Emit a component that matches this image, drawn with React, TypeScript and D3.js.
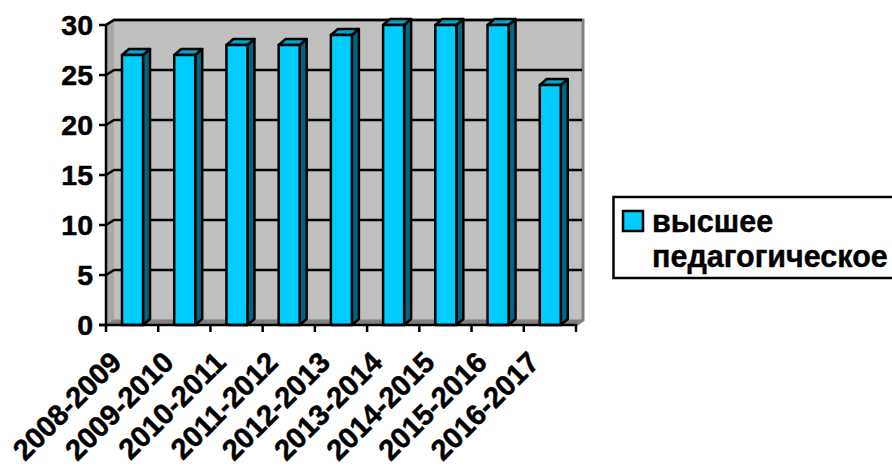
import React from "react";
import * as d3 from "d3";

const categories = ["2008-2009","2009-2010","2010-2011","2011-2012","2012-2013","2013-2014","2014-2015","2015-2016","2016-2017"];
const values = [27,27,28,28,29,30,30,30,24];
const yTicks = [0,5,10,15,20,25,30];
const legendLines = ["высшее","педагогическое"];

const W = 892, H = 466;
const x0 = 106, x1 = 576, yB = 325, yT = 25;
const dx = 8, dy = -5;
const FONT = "'Liberation Sans', Arial, sans-serif";

export default function App() {
  const x = d3.scaleBand<string>().domain(categories).range([x0, x1]).paddingInner(0).paddingOuter(0);
  const y = d3.scaleLinear().domain([0, 30]).range([yB, yT]);
  const step = x.step();
  const barW = 21;
  const bdx = 7, bdy = -6;
  const poly = (p: number[][]) => p.map(q => q.join(",")).join(" ");
  return (
    <svg width={W} height={H} viewBox={`0 0 ${W} ${H}`} style={{ position: "absolute", left: 0, top: 0, background: "#fff" }} fontFamily={FONT}>
      {/* walls */}
      <polygon points={poly([[x0+dx,yT+dy],[x1+dx,yT+dy],[x1+dx,yB+dy],[x0+dx,yB+dy]])} fill="#c0c0c0" />
      <polygon points={poly([[x0,yT],[x0+dx,yT+dy],[x0+dx,yB+dy],[x0,yB]])} fill="#a8a8a8" />
      <polygon points={poly([[x0,yB],[x0+dx,yB+dy],[x1+dx,yB+dy],[x1,yB]])} fill="#808080" />
      <polyline points={poly([[x0,yT],[x0+dx,yT+dy],[x1+dx-1,yT+dy],[x1+dx-1,yB+dy],[x1,yB]])} fill="none" stroke="#808080" strokeWidth={3} />
      {/* gridlines */}
      {yTicks.map(t => (
        <polyline key={t} points={poly([[x0,y(t)],[x0+dx,y(t)+dy],[x1+dx-2,y(t)+dy]])} fill="none" stroke={t===0?"#808080":"#000"} strokeWidth={t===0?1:2.5} />
      ))}
      {/* bars */}
      {values.map((v, i) => {
        const c = categories[i];
        const bx = (x(c) as number) + 16;
        const t = y(v);
        return (
          <g key={c} stroke="#000" strokeWidth={2.5} strokeLinejoin="round">
            <polygon points={poly([[bx+barW,t],[bx+barW+bdx,t+bdy],[bx+barW+bdx,yB+bdy],[bx+barW,yB]])} fill="#006680" />
            <polygon points={poly([[bx,t],[bx+bdx,t+bdy],[bx+barW+bdx,t+bdy],[bx+barW,t]])} fill="#00a3cc" />
            <rect x={bx} y={t} width={barW} height={yB-t} fill="#00ccff" />
          </g>
        );
      })}
      {/* axes */}
      <line x1={x0} x2={x0} y1={yT} y2={yB+1} stroke="#000" strokeWidth={2.5} />
      <line x1={x0-7} x2={x1+1} y1={yB} y2={yB} stroke="#000" strokeWidth={2.5} />
      {yTicks.map(t => (
        <g key={t}>
          <line x1={x0-7} x2={x0} y1={y(t)} y2={y(t)} stroke="#000" strokeWidth={2.5} />
          <text x={x0-13} y={y(t)+10} textAnchor="end" fontSize={28.5} fontWeight="bold" fill="#000" stroke="#000" strokeWidth={0.5}>{t}</text>
        </g>
      ))}
      {[...categories.map(c => x(c) as number), x1].map((p, i) => (
        <line key={i} x1={p} x2={p} y1={yB} y2={yB+7} stroke="#000" strokeWidth={2.5} />
      ))}
      {categories.map(c => {
        const cx = (x(c) as number) + step / 2 - 9;
        return (
          <text key={c} transform={`translate(${cx},${yB+39}) rotate(-45)`} textAnchor="end" fontSize={29} fontWeight="bold" fill="#000" stroke="#000" strokeWidth={0.5}>{c}</text>
        );
      })}
      {/* legend */}
      <rect x={613.5} y={197} width={W} height={81} fill="#fff" stroke="#000" strokeWidth={2.5} />
      <rect x={623} y={211} width={20} height={20} fill="#00ccff" stroke="#000" strokeWidth={2.5} />
      {legendLines.map((l, i) => (
        <text key={l} x={652} y={232+i*35} fontSize={30.5} fontWeight="bold" fill="#000" stroke="#000" strokeWidth={0.4}>{l}</text>
      ))}
    </svg>
  );
}
